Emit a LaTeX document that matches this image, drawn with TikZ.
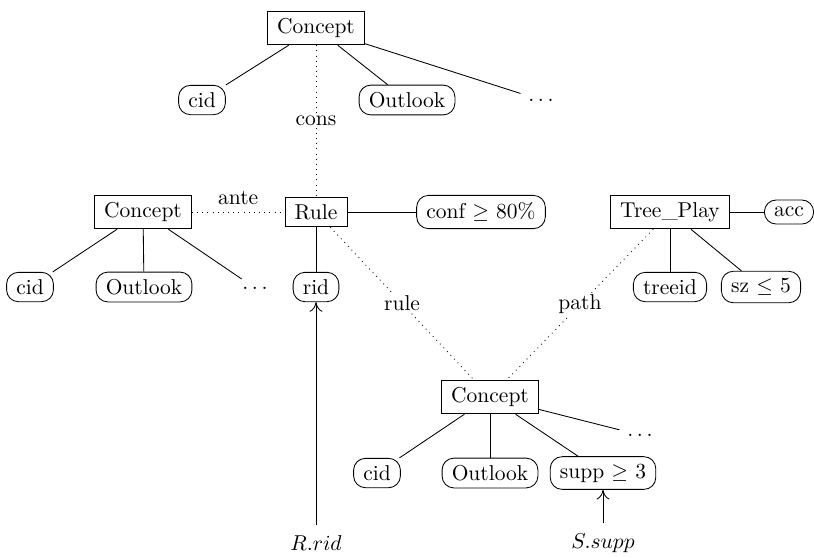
\documentclass[tikz,border=0pt]{standalone}
\usetikzlibrary{arrows.meta}
\begin{document}
\begin{tikzpicture}[x=0.465pt,y=-0.465pt,
  ent/.style={draw,rectangle,inner xsep=4.5pt,inner ysep=3.3pt},
  att/.style={draw,rectangle,rounded corners=5.5pt,inner xsep=4.5pt,inner ysep=3.3pt},
  dts/.style={inner sep=3.5pt},
  rel/.style={dotted},
  lbl/.style={fill=white,inner sep=1pt},
  ext/.style={inner sep=4.5pt},
  ptr/.style={-{To[length=4.5pt,width=6pt]}}]
\useasboundingbox (0,0) rectangle (814,557);
% top concept
\node[ent] (c1) at (316,28) {Concept};
\node[att] (a1) at (202,100) {cid};
\node[att] (o1) at (407,100) {Outlook};
\node[dts] (d1) at (541,100) {$\ldots$};
% middle row
\node[ent] (c2) at (143,212) {Concept};
\node[ent] (r) at (316,212) {Rule};
\node[att] (cf) at (481,212) {conf $\geq$ 80\%};
\node[ent] (tp) at (670,212) {Tree\_Play};
\node[att] (acc) at (789,212) {acc};
\node[att] (a2) at (30,287) {cid};
\node[att] (o2) at (144,287) {Outlook};
\node[dts] (d2) at (255,288) {$\ldots$};
\node[att] (rid) at (316,287) {rid};
\node[att] (tid) at (670,287) {treeid};
\node[att] (sz) at (761,287) {sz $\leq$ 5};
% bottom concept
\node[ent] (c3) at (490,397) {Concept};
\node[att] (a3) at (377,473) {cid};
\node[att] (o3) at (490,473) {Outlook};
\node[att] (sp) at (603,473) {supp $\geq$ 3};
\node[dts] (d3) at (640,435) {$\ldots$};
\node[ext] (rr) at (316,543) {$R.rid$};
\node[ext] (ss) at (603,543) {$S.supp$};
% edges
\draw (c1) -- (a1);
\draw (c1) -- (o1);
\draw (c1) -- (d1);
\draw (c2) -- (a2);
\draw (c2) -- (o2);
\draw (c2) -- (d2);
\draw (r) -- (cf);
\draw (r) -- (rid);
\draw (tp) -- (acc);
\draw (tp) -- (tid);
\draw (tp) -- (sz);
\draw (c3) -- (a3);
\draw (c3) -- (o3);
\draw (c3) -- (sp);
\draw (c3) -- (d3);
\draw[ptr] (rr) -- (rid);
\draw[ptr] (ss) -- (sp);
% relationships
\draw[rel] (c1) -- node[lbl] {cons} (r);
\draw[rel] (c2) -- node[above] {ante} (r);
\draw[rel] (r) -- node[lbl] {rule} (c3);
\draw[rel] (tp) -- node[lbl] {path} (c3);
\end{tikzpicture}
\end{document}
